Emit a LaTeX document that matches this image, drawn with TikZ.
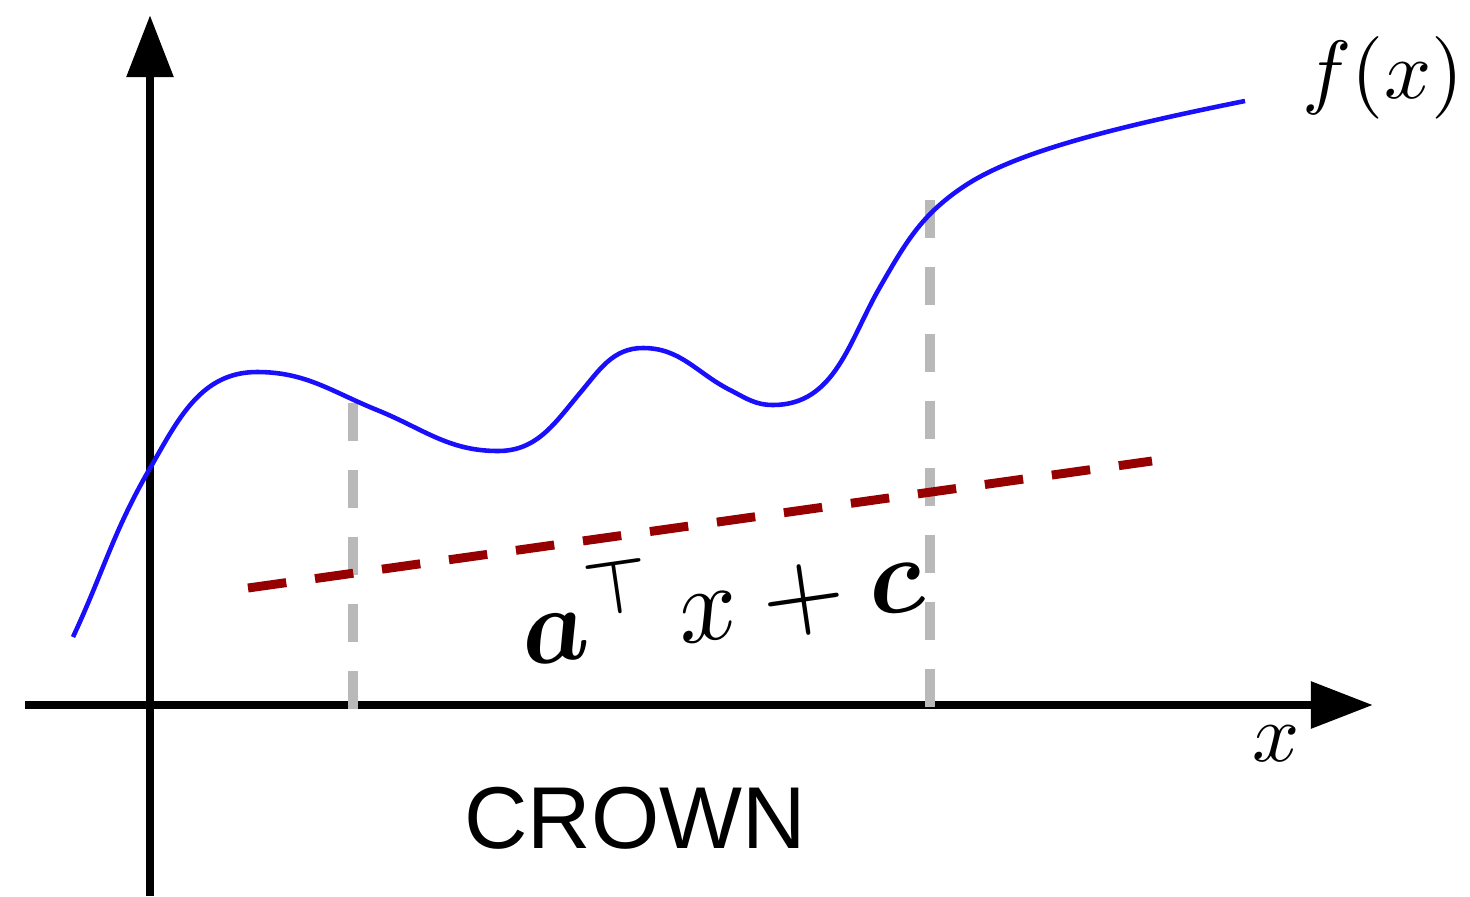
\documentclass[tikz,border=0pt]{standalone}
\usepackage{graphicx}
\usepackage{bm}
\usepackage{fontspec}
\newfontfamily\crownfont{Liberation Sans}
\usetikzlibrary{arrows.meta}
\definecolor{boundred}{RGB}{150,0,0}
\definecolor{guidegray}{RGB}{185,185,185}
\definecolor{curveblue}{RGB}{25,15,250}
\tikzset{
  axisline/.style={line width=5.1pt, -{Triangle[length=35.3pt,width=25.6pt]}},
  guideline/.style={line width=5.3pt, color=guidegray, dash pattern=on 21.6pt off 16.5pt},
  boundline/.style={line width=5.1pt, color=boundred, dash pattern=on 22pt off 16.5pt},
  funcline/.style={line width=2.6pt, color=curveblue, line join=round},
  lbl/.style={inner sep=0pt, anchor=base}
}
\begin{document}
\begin{tikzpicture}[x=0.02cm, y=-0.02cm]
\useasboundingbox (0,0) rectangle (1470,896);
% axes
\coordinate (ybot) at (150,896);
\coordinate (ytop) at (150,15);
\coordinate (xleft) at (25,705);
\coordinate (xright) at (1373,705);
\draw[axisline] (ybot) -- (ytop);
\draw[axisline] (xleft) -- (xright);
% guide lines
\coordinate (g1top) at (353,403);
\coordinate (g1bot) at (353,710);
\coordinate (g2top) at (930,200);
\coordinate (g2bot) at (930,710);
\draw[guideline] (g1top) -- (g1bot);
\draw[guideline] (g2top) -- (g2bot);
% function
\draw[funcline] (73,637) to[out=65,in=-120] (149,470)
  to[out=60,in=180] (257,372)
  to[out=0,in=158] (377,410)
  to[out=-22,in=180] (498,451)
  to[out=0,in=-130] (580,393)
  to[out=50,in=180] (643,348)
  to[out=0,in=153] (730,390)
  to[out=-27,in=180] (773,405)
  to[out=0,in=-120] (880,287)
  to[out=60,in=-146] (963,187)
  .. controls (1010,155) and (1100,130) .. (1245,101);
% linear bound
\coordinate (bstart) at (248,588);
\coordinate (bend) at (1152,461);
\draw[boundline] (bstart) -- (bend);
% labels
\node[lbl] (fx) at (1383,98) {\scalebox{4.7}{$f(x)$}};
\node[lbl] (xl) at (1276,761) {\scalebox{4.7}{$x$}};
\node[lbl, rotate=8.2] (expr) at (726,638) {\scalebox{6.1}{$\bm{a}^{\top}\,x+\bm{c}$}};
\node[lbl] (crown) at (635,848) {\crownfont\fontsize{50}{60}\selectfont CROWN};
\end{tikzpicture}
\end{document}
